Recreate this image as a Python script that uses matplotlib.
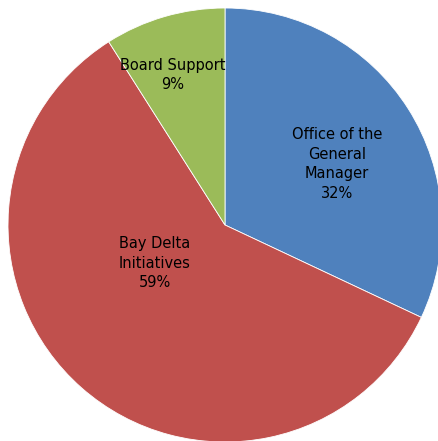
import matplotlib.pyplot as plt

labels = ['Office of the\nGeneral\nManager', 'Bay Delta\nInitiatives', 'Board Support']
shares = [32, 59, 9]
colors = ['#4F81BD', '#C0504D', '#9BBB59']

fig = plt.figure(figsize=(4.38, 4.41), dpi=100)
ax = fig.add_axes([0, 0, 1, 1])

cx, cy, r = 225, 441 - 225, 217
ax.pie(shares, colors=colors, startangle=90, counterclock=False,
       center=(cx, cy), radius=r, frame=True,
       wedgeprops=dict(edgecolor='white', linewidth=0.6))
ax.set_xlim(0, 438)
ax.set_ylim(0, 441)
ax.set_aspect('equal')
ax.axis('off')

# label offsets from the centre (pixels)
offsets = [(112, 61), (-70, -38), (-52, 150)]
for lab, v, (dx, dy) in zip(labels, shares, offsets):
    ax.text(cx + dx, cy + dy, '%s\n%d%%' % (lab, v), ha='center', va='center',
            fontsize=10.5, linespacing=1.4, color='black')

fig.savefig('out.png', dpi=100)
